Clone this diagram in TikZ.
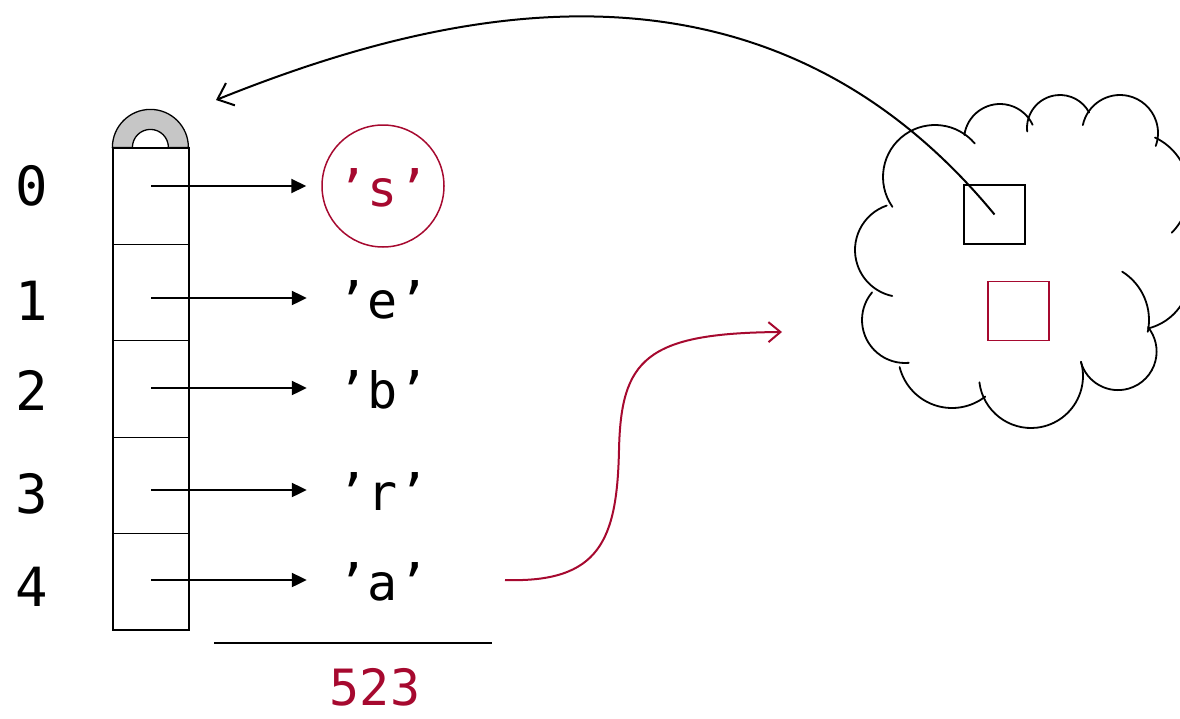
\documentclass[tikz,border=0pt]{standalone}
\usepackage{fontspec}
\setmonofont{DejaVu Sans Mono}
\usetikzlibrary{arrows.meta}
\definecolor{myred}{RGB}{166,9,47}
\newcommand\cloudpuff[5]{\draw[cloudline] (#1,#2) ++(#3:#5pt) arc[start angle=#3,end angle=#4,radius=#5pt];}
\begin{document}
\begin{tikzpicture}[x=1pt,y=-1pt,
  cell/.style={draw,line width=1.2pt,minimum width=76pt,minimum height=96.4pt,inner sep=0pt},
  chr/.style={circle,minimum size=122pt,inner sep=0pt,font=\fontsize{50}{50}\ttfamily,text height=40pt,text depth=0pt},
  idx/.style={inner sep=0pt,font=\fontsize{54}{54}\ttfamily,text height=40pt,text depth=0pt},
  ptr/.style={line width=2.2pt,-{Triangle[length=15pt,width=14pt]},shorten >=15pt},
  sq/.style={draw,line width=1.8pt,minimum width=61pt,minimum height=59pt,inner sep=0pt},
  cloudline/.style={line width=1.8pt,line cap=round}]
\useasboundingbox (0,0) rectangle (1180,718);

% array cells
\foreach \k in {0,...,4}{
  \node[cell] (cell\k) at (151,{196.2+96.4*\k}) {};
}
% cap
\draw[line width=1.3pt,fill=gray!45] (cell0.north west) arc[start angle=180,end angle=0,radius=38pt]
  -- ++(-20pt,0pt) arc[start angle=0,end angle=180,radius=18pt] -- cycle;

% index labels
\node[idx] (i0) at (32,185) {0};
\node[idx] (i1) at (32,300) {1};
\node[idx] (i2) at (32,390) {2};
\node[idx] (i3) at (32,493) {3};
\node[idx] (i4) at (32,586) {4};

% characters
\node[chr,draw=myred,line width=1.5pt,text=myred] (c0) at (383,186) {’s’};
\node[chr] (c1) at (383,298) {’e’};
\node[chr] (c2) at (383,388) {’b’};
\node[chr] (c3) at (383,490) {’r’};
\node[chr] (c4) at (383,580) {’a’};

\foreach \k in {0,...,4}{
  \draw[ptr] (cell\k.center |- c\k.center) -- (c\k.west);
}

% length
\draw[line width=2pt] (214,643) -- (492,643);
\node[inner sep=0pt,font=\fontsize{50}{50}\ttfamily,text height=37pt,text depth=0pt,text=myred] (len) at (375,687) {523};

% cloud (hand-drawn puffs)
\cloudpuff{935}{177}{215}{40}{52}
\cloudpuff{1000}{140}{172}{25}{36}
\cloudpuff{1060}{128}{186}{28}{33}
\cloudpuff{1120}{133}{168}{-20}{38}
\cloudpuff{1130}{191}{65}{-45}{59}
\cloudpuff{1092}{320}{58}{-12}{57}
\cloudpuff{1135}{275}{-76}{-20}{55}
\cloudpuff{1118}{351.5}{196}{399}{38.6}
\cloudpuff{1031}{376}{187}{376}{52}
\cloudpuff{952}{354}{194}{308}{54}
\cloudpuff{905}{320}{140}{275}{43}
\cloudpuff{902}{250}{109}{258}{47}

\node[sq] (box1) at (994.5,214.5) {};
\node[sq,draw=myred] (box2) at (1018.5,311) {};

% curves
\coordinate (capend) at (216,100);
\draw[line width=2pt,-{Straight Barb[length=14pt,width=24pt]}]
  (box1.center) .. controls (760,-70) and (440,10) .. (capend);

\coordinate (rstart) at (505,580);
\coordinate (rend) at (782,332);
\draw[myred,line width=2pt,-{Straight Barb[length=12pt,width=20pt]}]
  (rstart) .. controls (600,583) and (617,540) .. (619,450)
  .. controls (621,360) and (645,333) .. (rend);
\end{tikzpicture}
\end{document}
